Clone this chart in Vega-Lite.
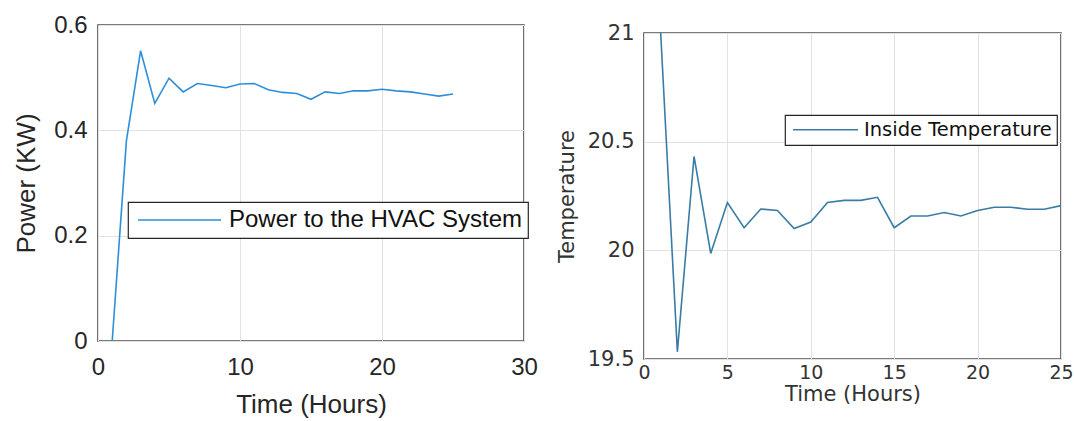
{
  "$schema": "https://vega.github.io/schema/vega-lite/v6.json",
  "padding": {"left": 12, "top": 12, "right": 0, "bottom": 0},
  "background": "white",
  "spacing": 16,
  "datasets": {
    "power": [
      {"t": 1, "p": 0.0, "series": "Power to the HVAC System"},
      {"t": 2, "p": 0.38, "series": "Power to the HVAC System"},
      {"t": 3, "p": 0.551, "series": "Power to the HVAC System"},
      {"t": 4, "p": 0.451, "series": "Power to the HVAC System"},
      {"t": 5, "p": 0.499, "series": "Power to the HVAC System"},
      {"t": 6, "p": 0.473, "series": "Power to the HVAC System"},
      {"t": 7, "p": 0.489, "series": "Power to the HVAC System"},
      {"t": 8, "p": 0.485, "series": "Power to the HVAC System"},
      {"t": 9, "p": 0.481, "series": "Power to the HVAC System"},
      {"t": 10, "p": 0.488, "series": "Power to the HVAC System"},
      {"t": 11, "p": 0.489, "series": "Power to the HVAC System"},
      {"t": 12, "p": 0.477, "series": "Power to the HVAC System"},
      {"t": 13, "p": 0.472, "series": "Power to the HVAC System"},
      {"t": 14, "p": 0.47, "series": "Power to the HVAC System"},
      {"t": 15, "p": 0.459, "series": "Power to the HVAC System"},
      {"t": 16, "p": 0.473, "series": "Power to the HVAC System"},
      {"t": 17, "p": 0.47, "series": "Power to the HVAC System"},
      {"t": 18, "p": 0.475, "series": "Power to the HVAC System"},
      {"t": 19, "p": 0.475, "series": "Power to the HVAC System"},
      {"t": 20, "p": 0.478, "series": "Power to the HVAC System"},
      {"t": 21, "p": 0.475, "series": "Power to the HVAC System"},
      {"t": 22, "p": 0.473, "series": "Power to the HVAC System"},
      {"t": 23, "p": 0.469, "series": "Power to the HVAC System"},
      {"t": 24, "p": 0.465, "series": "Power to the HVAC System"},
      {"t": 25, "p": 0.469, "series": "Power to the HVAC System"}
    ],
    "temp": [
      {"t": 1, "v": 21.0, "series": "Inside Temperature"},
      {"t": 2, "v": 19.533, "series": "Inside Temperature"},
      {"t": 3, "v": 20.432, "series": "Inside Temperature"},
      {"t": 4, "v": 19.986, "series": "Inside Temperature"},
      {"t": 5, "v": 20.22, "series": "Inside Temperature"},
      {"t": 6, "v": 20.104, "series": "Inside Temperature"},
      {"t": 7, "v": 20.19, "series": "Inside Temperature"},
      {"t": 8, "v": 20.183, "series": "Inside Temperature"},
      {"t": 9, "v": 20.1, "series": "Inside Temperature"},
      {"t": 10, "v": 20.13, "series": "Inside Temperature"},
      {"t": 11, "v": 20.22, "series": "Inside Temperature"},
      {"t": 12, "v": 20.23, "series": "Inside Temperature"},
      {"t": 13, "v": 20.23, "series": "Inside Temperature"},
      {"t": 14, "v": 20.244, "series": "Inside Temperature"},
      {"t": 15, "v": 20.104, "series": "Inside Temperature"},
      {"t": 16, "v": 20.158, "series": "Inside Temperature"},
      {"t": 17, "v": 20.158, "series": "Inside Temperature"},
      {"t": 18, "v": 20.174, "series": "Inside Temperature"},
      {"t": 19, "v": 20.158, "series": "Inside Temperature"},
      {"t": 20, "v": 20.183, "series": "Inside Temperature"},
      {"t": 21, "v": 20.198, "series": "Inside Temperature"},
      {"t": 22, "v": 20.198, "series": "Inside Temperature"},
      {"t": 23, "v": 20.189, "series": "Inside Temperature"},
      {"t": 24, "v": 20.189, "series": "Inside Temperature"},
      {"t": 25, "v": 20.206, "series": "Inside Temperature"}
    ]
  },
  "resolve": {"scale": {"color": "independent"}, "legend": {"color": "independent"}},
  "hconcat": [
    {
      "width": 426,
      "height": 316,
      "data": {"name": "power"},
      "mark": {"type": "line", "strokeWidth": 1.6, "clip": true},
      "encoding": {
        "x": {
          "field": "t", "type": "quantitative",
          "scale": {"domain": [0, 30], "nice": false},
          "axis": {
            "title": "Time (Hours)", "values": [0, 10, 20, 30], "format": "d",
            "labelFont": "Liberation Sans", "labelFontSize": 24, "labelColor": "#262626",
            "titleFont": "Liberation Sans", "titleFontSize": 26, "titleFontWeight": "normal", "titleColor": "#262626",
            "labelPadding": 14, "titlePadding": 12, "labelFlush": false, "labelOverlap": false,
            "ticks": false, "domain": false, "grid": true, "gridColor": "#e2e2e2", "gridWidth": 1
          }
        },
        "y": {
          "field": "p", "type": "quantitative",
          "scale": {"domain": [0, 0.6], "nice": false},
          "axis": {
            "title": "Power (KW)", "values": [0, 0.2, 0.4, 0.6], "format": ".1~f",
            "labelFont": "Liberation Sans", "labelFontSize": 24, "labelColor": "#262626",
            "titleFont": "Liberation Sans", "titleFontSize": 26, "titleFontWeight": "normal", "titleColor": "#262626",
            "labelPadding": 11, "titlePadding": 14, "labelFlush": false, "labelOverlap": false,
            "ticks": false, "domain": false, "grid": true, "gridColor": "#e2e2e2", "gridWidth": 1
          }
        },
        "color": {
          "field": "series", "type": "nominal",
          "scale": {"range": ["#2e8fd8"]},
          "legend": {
            "title": null, "orient": "none", "legendX": 30, "legendY": 177,
            "symbolType": "M-5,0H5", "symbolSize": 276, "symbolStrokeWidth": 1.6,
            "symbolOffset": 33.5,
            "labelFont": "Liberation Sans", "labelFontSize": 24, "labelColor": "#111111",
            "labelOffset": 37.5, "labelLimit": 600, "padding": 6,
            "strokeColor": "#262626", "fillColor": "white", "cornerRadius": 0
          }
        }
      }
    },
    {
      "vconcat": [
        {
          "width": 417,
          "height": 8,
          "data": {"values": []},
          "mark": {"type": "rect"},
          "encoding": {},
          "view": {"stroke": null}
        },
        {
          "width": 417,
          "height": 326,
          "data": {"name": "temp"},
          "mark": {"type": "line", "strokeWidth": 1.6, "clip": true},
          "encoding": {
            "x": {
              "field": "t", "type": "quantitative",
              "scale": {"domain": [0, 25], "nice": false},
              "axis": {
                "title": "Time (Hours)", "values": [0, 5, 10, 15, 20, 25], "format": "d",
                "labelFont": "DejaVu Sans", "labelFontSize": 19, "labelColor": "#333333",
                "titleFont": "DejaVu Sans", "titleFontSize": 21, "titleFontWeight": "normal", "titleColor": "#333333",
                "labelPadding": 4, "titlePadding": 1, "labelFlush": false, "labelOverlap": false,
                "ticks": false, "domain": false, "grid": true, "gridColor": "#e2e2e2", "gridWidth": 1
              }
            },
            "y": {
              "field": "v", "type": "quantitative",
              "scale": {"domain": [19.5, 21], "nice": false, "zero": false},
              "axis": {
                "title": "Temperature", "values": [19.5, 20, 20.5, 21], "format": ".1~f",
                "labelFont": "DejaVu Sans", "labelFontSize": 21, "labelColor": "#333333",
                "titleFont": "DejaVu Sans", "titleFontSize": 21, "titleFontWeight": "normal", "titleColor": "#333333",
                "labelPadding": 10, "titlePadding": 10, "labelFlush": false, "labelOverlap": false,
                "ticks": false, "domain": false, "grid": true, "gridColor": "#e2e2e2", "gridWidth": 1
              }
            },
            "color": {
              "field": "series", "type": "nominal",
              "scale": {"range": ["#3a7ca5"]},
              "legend": {
                "title": null, "orient": "none", "legendX": 141, "legendY": 90,
                "symbolType": "M-5,0H5", "symbolSize": 169, "symbolStrokeWidth": 1.6,
                "symbolOffset": 25.75,
                "labelFont": "DejaVu Sans", "labelFontSize": 19.5, "labelColor": "#111111",
                "labelOffset": 28.75, "labelLimit": 600, "padding": 5,
                "strokeColor": "#262626", "fillColor": "white", "cornerRadius": 0
              }
            }
          }
        }
      ],
      "spacing": 0,
      "bounds": "flush"
    }
  ],
  "config": {
    "view": {"stroke": "#4d4d4d", "strokeWidth": 1.6},
    "legend": {"strokeWidth": 1.2}
  }
}
